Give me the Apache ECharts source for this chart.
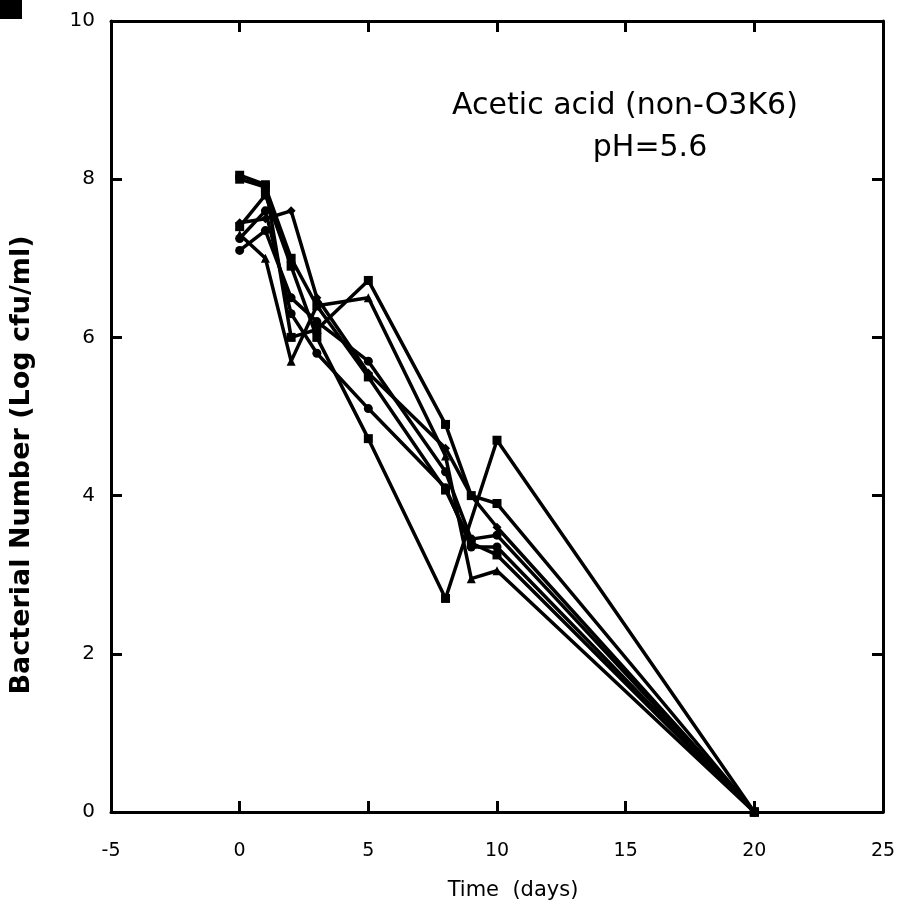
<!DOCTYPE html>
<html>
<head>
<meta charset="utf-8">
<script src="https://cdn.jsdelivr.net/npm/echarts@6/dist/echarts.min.js"></script>
<style>
  html, body { margin: 0; padding: 0; background: #fff; }
  #chart { width: 899px; height: 923px; }
</style>
</head>
<body>
<div id="chart"></div>
<script>
// sampling days (x) and log counts per run
const days = [0, 1, 2, 3, 5, 8, 9, 10, 20]

const runA = [8.05, 7.93, 6.0, 6.1, 6.72, 4.9, 4.0, 3.9, 0]
const runB = [7.45, 7.5, 7.6, 6.5, 5.55, 4.6, 4.0, 3.6, 0]
const runC = [7.1, 7.35, 6.5, 6.2, 5.7, 4.3, 3.45, 3.5, 0]
const runD = [7.3, 7.0, 5.7, 6.4, 6.5, 4.5, 2.95, 3.05, 0]
const runE = [7.4, 7.8, 6.9, 6.0, 4.72, 2.7, null, 4.7, 0]
const runF = [7.25, 7.6, 6.3, 5.8, 5.1, 4.1, 3.35, 3.35, 0]
const runG = [8.0, 7.9, 7.0, 6.4, 5.5, 4.07, 3.4, 3.25, 0]

const runs = [
  { name: 'A', values: runA, symbol: 'rect' },
  { name: 'B', values: runB, symbol: 'diamond' },
  { name: 'C', values: runC, symbol: 'circle' },
  { name: 'D', values: runD, symbol: 'triangle' },
  { name: 'E', values: runE, symbol: 'rect' },
  { name: 'F', values: runF, symbol: 'circle' },
  { name: 'G', values: runG, symbol: 'rect' }
]

const chart = echarts.init(document.getElementById('chart'))

const axisLine = { show: true, onZero: false, lineStyle: { color: '#000', width: 3 } }
const tickInside = { show: true, inside: true, length: 11, lineStyle: { color: '#000', width: 3 } }
const font = '"DejaVu Sans", Verdana, sans-serif'

const option = {
  animation: false,
  backgroundColor: '#fff',
  grid: { left: 111, top: 21, right: 16, bottom: 111 },
  xAxis: [
    {
      type: 'value', min: -5, max: 25, interval: 5, position: 'bottom',
      axisLine, axisTick: tickInside, splitLine: { show: false },
      axisLabel: { color: '#000', fontSize: 19, fontFamily: font, margin: 30 }
    },
    {
      type: 'value', min: -5, max: 25, interval: 5, position: 'top',
      axisLine, axisTick: tickInside, splitLine: { show: false },
      axisLabel: { show: false }
    }
  ],
  yAxis: [
    {
      type: 'value', min: 0, max: 10, interval: 2, position: 'left',
      axisLine, axisTick: tickInside, splitLine: { show: false },
      axisLabel: { color: '#000', fontSize: 20, fontFamily: font, margin: 16 }
    },
    {
      type: 'value', min: 0, max: 10, interval: 2, position: 'right',
      axisLine, axisTick: tickInside, splitLine: { show: false },
      axisLabel: { show: false }
    }
  ],
  graphic: [
    { type: 'rect', left: 0, top: 0, shape: { width: 22, height: 19 }, style: { fill: '#000' } },
    {
      type: 'text', x: 625, y: 91,
      style: {
        text: 'Acetic acid (non-O3K6)', align: 'center',
        font: '30px ' + font, fill: '#000'
      }
    },
    {
      type: 'text', x: 650, y: 133,
      style: { text: 'pH=5.6', align: 'center', font: '30px ' + font, fill: '#000' }
    },
    {
      type: 'text', x: 513, y: 880,
      style: { text: 'Time  (days)', align: 'center', font: '21px ' + font, fill: '#000' }
    },
    {
      type: 'text', x: 22, y: 465, rotation: Math.PI / 2,
      style: {
        text: 'Bacterial Number (Log cfu/ml)', align: 'center', verticalAlign: 'middle',
        font: 'bold 27px ' + font, fill: '#000'
      }
    }
  ],
  series: runs.map(r => ({
    name: r.name,
    type: 'line',
    data: days.map((d, i) => [d, r.values[i]]).filter(p => p[1] !== null),
    symbol: r.symbol,
    symbolSize: 9,
    showSymbol: true,
    lineStyle: { color: '#000', width: 3.5 },
    itemStyle: { color: '#000' }
  }))
}

chart.setOption(option)
</script>
</body>
</html>
